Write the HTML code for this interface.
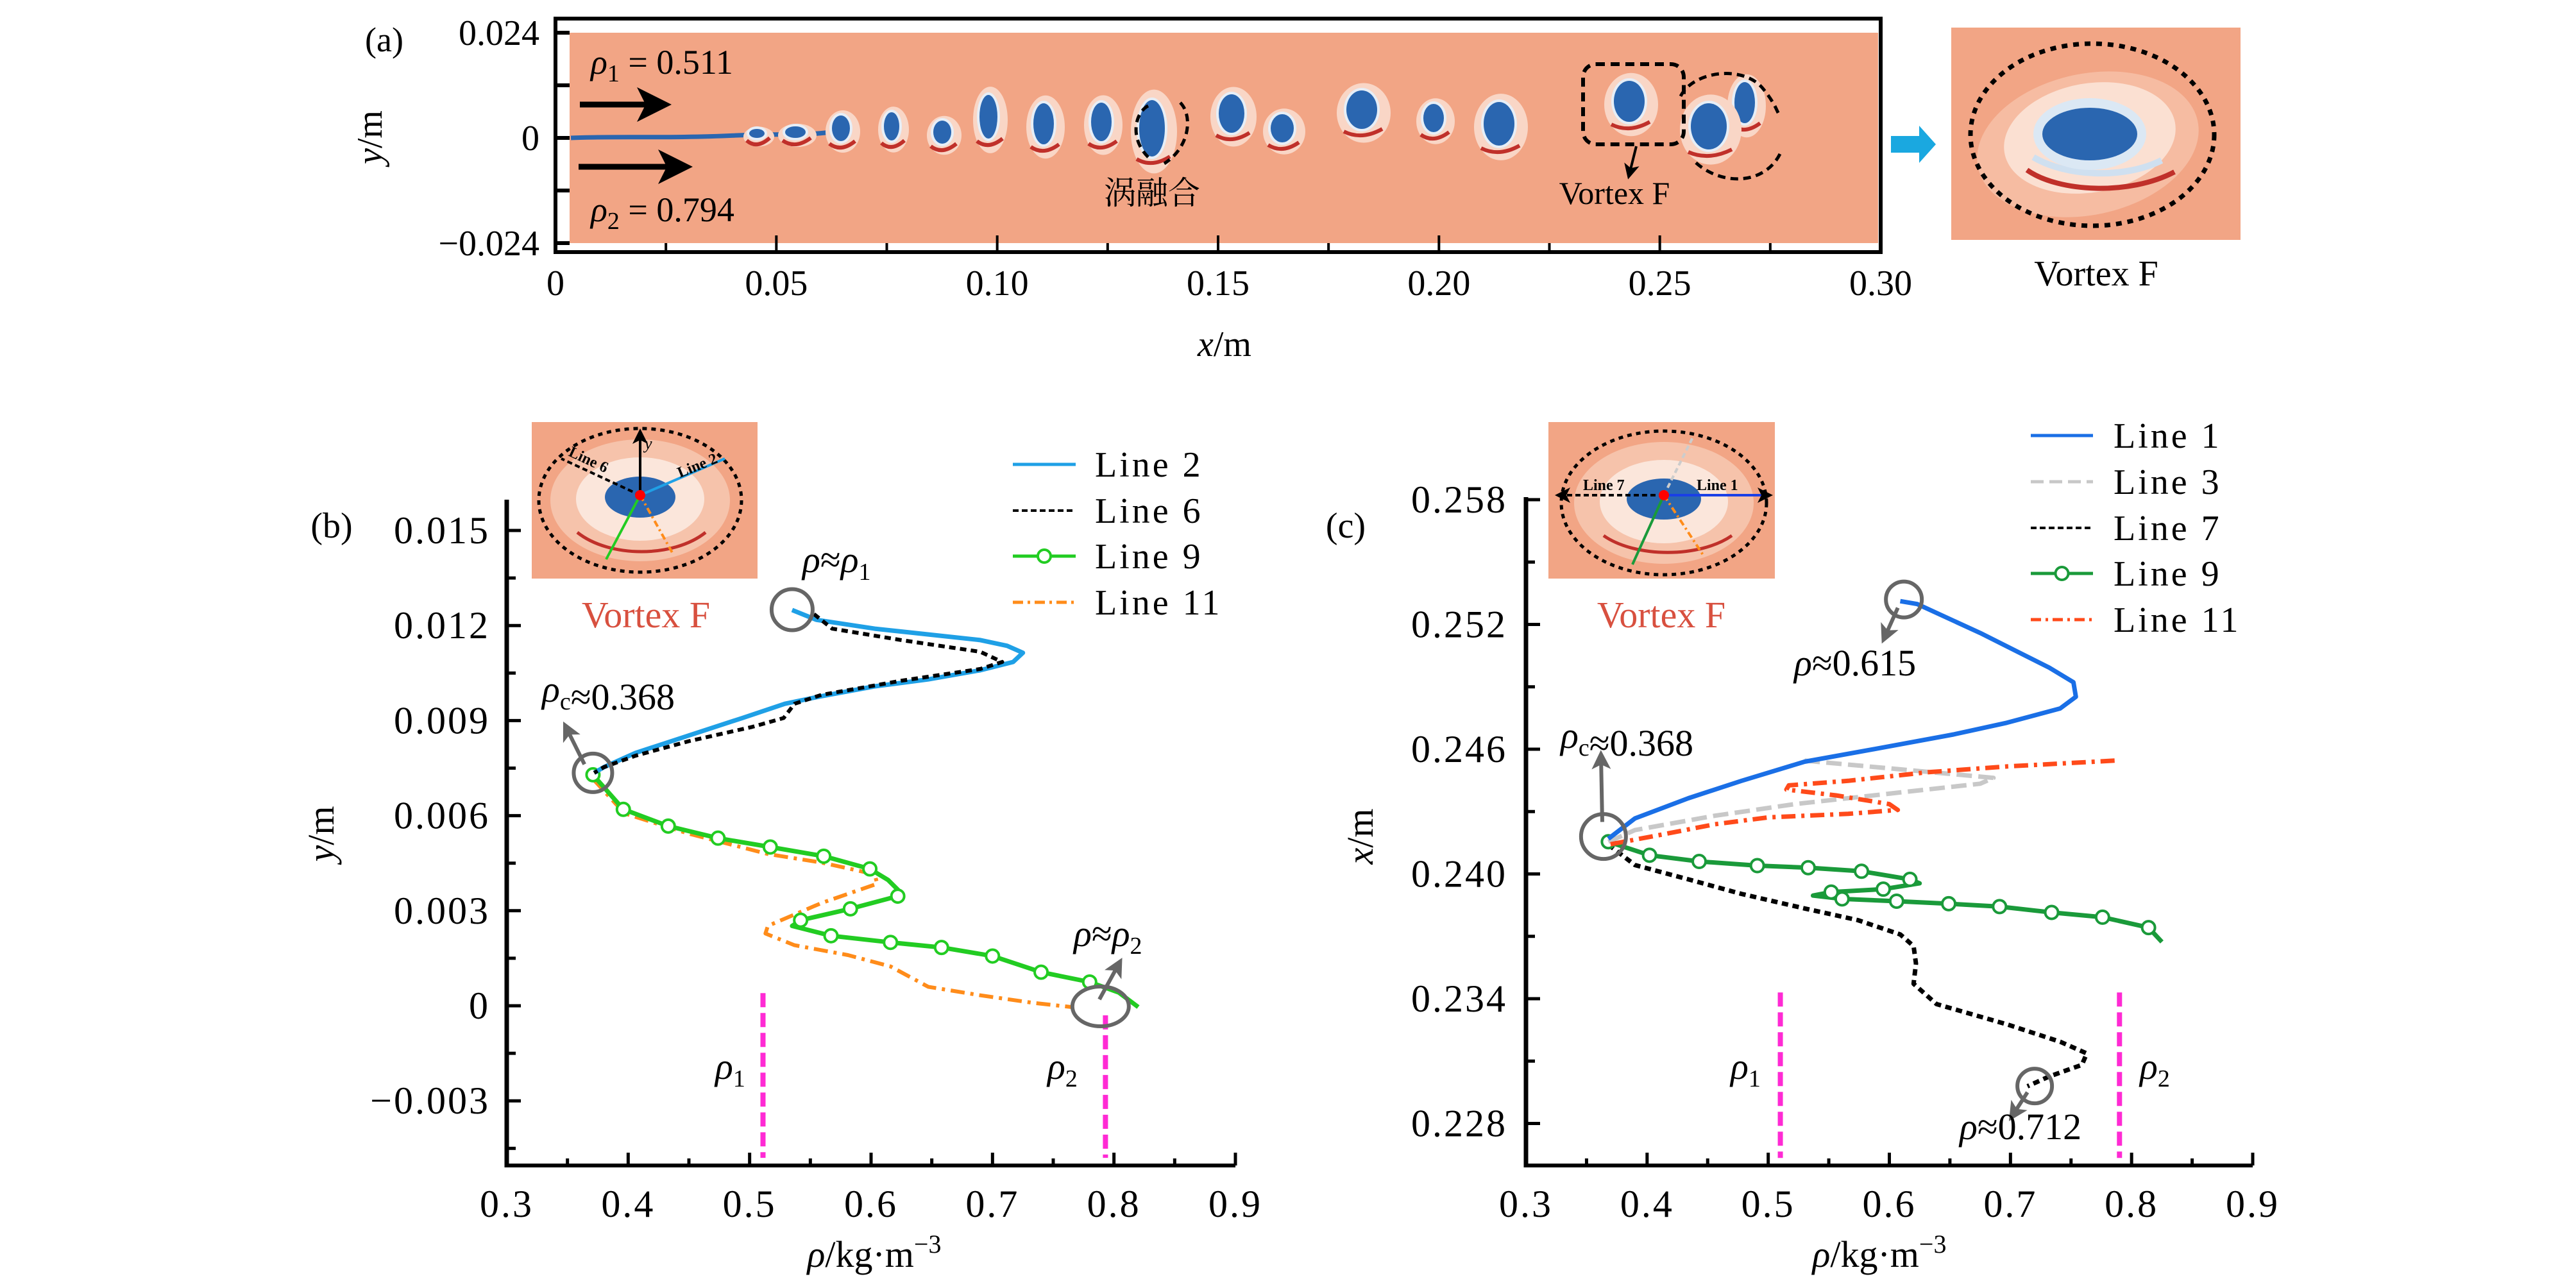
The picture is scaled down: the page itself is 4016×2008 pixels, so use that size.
<!DOCTYPE html>
<html><head><meta charset="utf-8"><style>
html,body{margin:0;padding:0;background:#fff;}
svg{display:block;font-family:"Liberation Serif","Noto Serif CJK SC",serif;}
.it{font-style:italic;}
</style></head><body>
<svg id="fig" width="4016" height="2008" viewBox="0 0 4016 2008" xmlns="http://www.w3.org/2000/svg">
<defs>
<marker id="ah" markerWidth="6" markerHeight="6" refX="3" refY="3" orient="auto" markerUnits="strokeWidth"><path d="M0,0 L6,3 L0,6 L1.5,3 Z" fill="#000"/></marker>
<marker id="ahg" markerWidth="5" markerHeight="5" refX="2.5" refY="2.5" orient="auto" markerUnits="strokeWidth"><path d="M0,0 L5,2.5 L0,5 L1.2,2.5 Z" fill="#666"/></marker>
</defs>

<!-- Panel (a) -->
<g>
<text x="599" y="80" font-size="54" text-anchor="middle">(a)</text>
<rect x="888" y="51" width="2040" height="328" fill="#f2a585"/>
<g id="blobs"></g>
<rect x="866" y="29" width="2066" height="364" fill="none" stroke="#000" stroke-width="6"/>
<g id="aTicks"></g>
<line x1="904" y1="163" x2="1020" y2="163" stroke="#000" stroke-width="9" marker-end="url(#ah)"/>
<line x1="902" y1="260" x2="1053" y2="260" stroke="#000" stroke-width="9" marker-end="url(#ah)"/>
<text x="921" y="115" font-size="54"><tspan class="it">ρ</tspan><tspan font-size="38" dy="12">1</tspan><tspan dy="-12"> = 0.511</tspan></text>
<text x="921" y="345" font-size="54"><tspan class="it">ρ</tspan><tspan font-size="38" dy="12">2</tspan><tspan dy="-12"> = 0.794</tspan></text>
<text x="1796" y="318" font-size="50" text-anchor="middle" font-family="Noto Serif CJK SC,serif">涡融合</text>
<text x="2517" y="318" font-size="50" text-anchor="middle">Vortex F</text>
<rect x="2468" y="100" width="157" height="125" rx="20" fill="none" stroke="#000" stroke-width="6" stroke-dasharray="14 9"/>
<line x1="2551" y1="228" x2="2541" y2="268" stroke="#000" stroke-width="4" marker-end="url(#ah)"/>
<path d="M1790,165 C1770,175 1760,215 1790,245 M1840,160 C1860,180 1855,230 1815,255" fill="none" stroke="#000" stroke-width="5" stroke-dasharray="12 8"/>
<path d="M2620,150 C2640,110 2720,100 2750,140 C2770,165 2770,175 2775,180 M2775,240 C2750,290 2680,290 2640,250" fill="none" stroke="#000" stroke-width="5" stroke-dasharray="12 8"/>
<text x="841" y="70" font-size="56" text-anchor="end">0.024</text>
<text x="841" y="234" font-size="56" text-anchor="end">0</text>
<text x="841" y="398" font-size="56" text-anchor="end">−0.024</text>
<g id="aXLabels"></g>
<text x="1909" y="555" font-size="56" text-anchor="middle"><tspan class="it">x</tspan>/m</text>
<text transform="translate(595,214) rotate(-90)" font-size="56" text-anchor="middle"><tspan class="it">y</tspan>/m</text>
<path d="M2948,212 L2992,212 L2992,196 L3018,225 L2992,254 L2992,238 L2948,238 Z" fill="#1aa8e0"/>
<g>
<rect x="3042" y="43" width="451" height="331" fill="#f2a585"/>
<ellipse cx="3255" cy="225" rx="175" ry="110" fill="#f6bca2" transform="rotate(-12 3255 225)"/>
<ellipse cx="3258" cy="215" rx="135" ry="85" fill="#fbe0d2" transform="rotate(-10 3258 215)"/>
<path d="M3160,265 C3210,300 3320,305 3390,268" fill="none" stroke="#c0302a" stroke-width="8"/>
<path d="M3170,245 C3220,275 3310,280 3370,250" fill="none" stroke="#cfe0f0" stroke-width="10"/>
<ellipse cx="3258" cy="209" rx="88" ry="56" fill="#dbe8f4"/>
<ellipse cx="3258" cy="209" rx="74" ry="41" fill="#2a66b0"/>
<ellipse cx="3262" cy="210" rx="190" ry="142" fill="none" stroke="#000" stroke-width="7" stroke-dasharray="9 9"/>
</g>
<text x="3268" y="445" font-size="56" text-anchor="middle">Vortex F</text>
</g>

<!-- Panel (b) -->
<g>
<text x="517" y="838" font-size="56" text-anchor="middle">(b)</text>
<text transform="translate(520,1300) rotate(-90)" font-size="58" text-anchor="middle"><tspan class="it">y</tspan>/m</text>
<text x="1363" y="1975" font-size="58" text-anchor="middle"><tspan class="it">ρ</tspan>/kg·m<tspan font-size="40" dy="-22">−3</tspan></text>
<g id="bAxes"></g>
<g>
<rect x="829" y="658" width="352" height="244" fill="#f2a585"/>
<ellipse cx="998" cy="780" rx="140" ry="95" fill="#f6c3ab"/>
<ellipse cx="998" cy="778" rx="100" ry="65" fill="#fbe6db"/>
<path d="M900,830 C950,870 1050,870 1100,830" fill="none" stroke="#c0302a" stroke-width="5"/>
<ellipse cx="998" cy="775" rx="55" ry="32" fill="#2a66b0"/>
<ellipse cx="998" cy="780" rx="158" ry="112" fill="none" stroke="#000" stroke-width="5" stroke-dasharray="7 7"/>
<line x1="998" y1="772" x2="998" y2="680" stroke="#000" stroke-width="4" marker-end="url(#ah)"/>
<line x1="998" y1="772" x2="1130" y2="715" stroke="#1fa0e6" stroke-width="4"/>
<line x1="998" y1="772" x2="875" y2="715" stroke="#000" stroke-width="4" stroke-dasharray="8 5"/>
<line x1="998" y1="772" x2="945" y2="872" stroke="#22cc22" stroke-width="4"/>
<line x1="998" y1="772" x2="1050" y2="865" stroke="#ff8c1a" stroke-width="4" stroke-dasharray="10 5 3 5"/>
<circle cx="998" cy="772" r="8" fill="#f00"/>
<text x="1005" y="700" font-size="26" class="it">y</text>
<text x="1060" y="745" font-size="24" font-weight="bold" transform="rotate(-22 1060 745)">Line 2</text>
<text x="885" y="710" font-size="24" font-weight="bold" transform="rotate(25 885 710)">Line 6</text>
</g>
<text x="1007" y="978" font-size="58" fill="#d8503f" text-anchor="middle">Vortex F</text>
<g id="bSeries"></g>
<g id="bLegend"></g>
<g id="bAnno"></g>
</g>

<!-- Panel (c) -->
<g>
<text x="2098" y="838" font-size="56" text-anchor="middle">(c)</text>
<text transform="translate(2140,1304) rotate(-90)" font-size="58" text-anchor="middle"><tspan class="it">x</tspan>/m</text>
<text x="2930" y="1975" font-size="58" text-anchor="middle"><tspan class="it">ρ</tspan>/kg·m<tspan font-size="40" dy="-22">−3</tspan></text>
<g id="cAxes"></g>
<g>
<rect x="2414" y="658" width="353" height="244" fill="#f2a585"/>
<ellipse cx="2594" cy="784" rx="140" ry="95" fill="#f6c3ab"/>
<ellipse cx="2594" cy="782" rx="100" ry="65" fill="#fbe6db"/>
<path d="M2500,835 C2550,870 2650,870 2700,835" fill="none" stroke="#c0302a" stroke-width="5"/>
<ellipse cx="2594" cy="778" rx="58" ry="32" fill="#2a66b0"/>
<ellipse cx="2594" cy="784" rx="160" ry="112" fill="none" stroke="#000" stroke-width="5" stroke-dasharray="7 7"/>
<line x1="2594" y1="772" x2="2752" y2="772" stroke="#1a3fe6" stroke-width="4" marker-end="url(#ah)"/>
<line x1="2594" y1="772" x2="2436" y2="772" stroke="#000" stroke-width="4" stroke-dasharray="8 5" marker-end="url(#ah)"/>
<line x1="2594" y1="772" x2="2640" y2="680" stroke="#ccc" stroke-width="4" stroke-dasharray="8 5"/>
<line x1="2594" y1="772" x2="2545" y2="880" stroke="#1a9a3a" stroke-width="4"/>
<line x1="2594" y1="772" x2="2655" y2="865" stroke="#ff8c1a" stroke-width="4" stroke-dasharray="10 5 3 5"/>
<circle cx="2594" cy="772" r="8" fill="#f00"/>
<text x="2468" y="764" font-size="24" font-weight="bold">Line 7</text>
<text x="2645" y="764" font-size="24" font-weight="bold">Line 1</text>
</g>
<text x="2590" y="978" font-size="58" fill="#d8503f" text-anchor="middle">Vortex F</text>
<g id="cSeries"></g>
<g id="cLegend"></g>
<g id="cAnno"></g>
</g>
</svg>
<script>
// ---------- Panel (b) data: density rho vs y ----------
const bL2Rho=[0.535,0.555,0.603,0.690,0.712,0.725,0.717,0.690,0.647,0.603,0.559,0.529,0.494,0.450,0.406,0.380,0.372];
const bL2Y=[0.01249,0.01218,0.0119,0.01154,0.01136,0.01114,0.01085,0.01059,0.0103,0.01008,0.00977,0.00953,0.00908,0.00853,0.00798,0.00753,0.00735];
const bL6Rho=[0.553,0.568,0.625,0.690,0.708,0.690,0.625,0.559,0.537,0.528,0.502,0.450,0.406,0.380,0.372];
const bL6Y=[0.01236,0.0119,0.01154,0.01117,0.01085,0.01063,0.01026,0.00981,0.00953,0.00908,0.0088,0.00835,0.00789,0.00753,0.00735];
const bL9Rho=[0.371,0.396,0.433,0.474,0.517,0.561,0.599,0.614,0.625,0.622,0.583,0.542,0.535,0.567,0.616,0.658,0.700,0.740,0.780,0.804,0.820];
const bL9Y=[0.00729,0.0062,0.00567,0.00529,0.00501,0.00472,0.00432,0.00397,0.00355,0.00346,0.00306,0.0027,0.00252,0.00221,0.002,0.00184,0.00157,0.00106,0.00075,0.00042,-0.00004];
const bL9MarkRho=[0.371,0.396,0.433,0.474,0.517,0.561,0.599,0.622,0.583,0.542,0.567,0.616,0.658,0.700,0.740,0.780];
const bL9MarkY=[0.00729,0.0062,0.00567,0.00529,0.00501,0.00472,0.00432,0.00346,0.00306,0.0027,0.00221,0.002,0.00184,0.00157,0.00106,0.00075];
const bL11Rho=[0.371,0.397,0.450,0.515,0.559,0.603,0.605,0.559,0.515,0.513,0.537,0.581,0.616,0.647,0.690,0.734,0.765];
const bL11Y=[0.00716,0.00607,0.00543,0.00479,0.00452,0.00415,0.00385,0.00324,0.00252,0.00228,0.00191,0.0016,0.00124,0.0006,0.00033,0.00009,-0.00004];
const bXTicks=[0.3,0.4,0.5,0.6,0.7,0.8,0.9];
const bXTickLabels=["0.3","0.4","0.5","0.6","0.7","0.8","0.9"];
const bYTicks=[-0.003,0,0.003,0.006,0.009,0.012,0.015];
const bYTickLabels=["−0.003","0","0.003","0.006","0.009","0.012","0.015"];
const bRhoRefs=[0.511,0.793];

// ---------- Panel (c) data: density rho vs x ----------
const cL1Rho=[0.609,0.623,0.675,0.732,0.752,0.754,0.741,0.697,0.653,0.588,0.530,0.478,0.434,0.390,0.368];
const cL1X=[0.25312,0.25298,0.25159,0.24992,0.24922,0.24852,0.24796,0.24727,0.24671,0.24601,0.2454,0.24448,0.24364,0.24267,0.24169];
const cL3Rho=[0.530,0.609,0.686,0.675,0.609,0.522,0.456,0.390,0.368];
const cL3X=[0.24545,0.24503,0.24462,0.24434,0.24392,0.24336,0.2428,0.24211,0.24155];
const cL7Rho=[0.368,0.390,0.434,0.478,0.530,0.574,0.609,0.620,0.622,0.620,0.639,0.697,0.741,0.763,0.759,0.732,0.714];
const cL7X=[0.24141,0.24043,0.23974,0.23904,0.23834,0.23778,0.23709,0.23653,0.23569,0.23472,0.23374,0.23277,0.23193,0.23137,0.23082,0.23026,0.22979];
const cL9Rho=[0.368,0.402,0.443,0.491,0.533,0.577,0.617,0.625,0.595,0.552,0.537,0.561,0.606,0.649,0.691,0.734,0.776,0.814,0.825];
const cL9X=[0.24155,0.2409,0.2406,0.2404,0.2403,0.24013,0.23974,0.23955,0.23927,0.23913,0.23896,0.2388,0.23869,0.23857,0.23843,0.23815,0.23792,0.23742,0.23673];
const cL9MarkRho=[0.368,0.402,0.443,0.491,0.533,0.577,0.617,0.595,0.552,0.561,0.606,0.649,0.691,0.734,0.776,0.814];
const cL9MarkX=[0.24155,0.2409,0.2406,0.2404,0.2403,0.24013,0.23974,0.23927,0.23913,0.2388,0.23869,0.23857,0.23843,0.23815,0.23792,0.23742];
const cL11Rho=[0.786,0.697,0.631,0.566,0.517,0.515,0.556,0.600,0.607,0.566,0.500,0.456,0.412,0.368];
const cL11X=[0.24545,0.24517,0.24489,0.24448,0.24426,0.24406,0.24378,0.24336,0.24308,0.24289,0.24272,0.24239,0.24189,0.24141];
const cXTicks=[0.3,0.4,0.5,0.6,0.7,0.8,0.9];
const cXTickLabels=["0.3","0.4","0.5","0.6","0.7","0.8","0.9"];
const cYTicks=[0.228,0.234,0.240,0.246,0.252,0.258];
const cYTickLabels=["0.228","0.234","0.240","0.246","0.252","0.258"];
const cRhoRefs=[0.510,0.790];

// ---------- Panel (a) ticks ----------
const aXTicks=[0,0.05,0.10,0.15,0.20,0.25,0.30];
const aXTickLabels=["0","0.05","0.10","0.15","0.20","0.25","0.30"];

const NS="http://www.w3.org/2000/svg";
function mk(tag,attrs,parent){const e=document.createElementNS(NS,tag);for(const k in attrs)e.setAttribute(k,attrs[k]);parent.appendChild(e);return e;}

const bx=r=>790+(r-0.3)/0.6*1136;
const by=v=>1568-v/0.003*148.2;
const cx=r=>2379+(r-0.3)/0.6*1133;
const cy=v=>779+(0.258-v)/0.006*194.5;
const ax=v=>866+v/0.30*2066;

function ptsStr(xs,ys,fx,fy){return xs.map((x,i)=>fx(x).toFixed(1)+","+fy(ys[i]).toFixed(1)).join(" ");}

(function(){
 const g=document.getElementById('aTicks');
 for(let i=0;i<=12;i++){const v=i*0.025;const X=ax(v);const len=(i%2===0)?26:14;
  const t=mk('line',{x1:X,y1:393,x2:X,y2:393-len,stroke:'#000','stroke-width':4},g);
  
  }
 [51,133,215,297,379].forEach(Y=>{const t=mk('line',{x1:866,y1:Y,x2:888,y2:Y,stroke:'#000','stroke-width':6},g);
  
  });
 const gl=document.getElementById('aXLabels');
 aXTicks.forEach((v,i)=>{const t=mk('text',{x:ax(v),y:460,'font-size':56,'text-anchor':'middle'},gl);t.textContent=aXTickLabels[i];
  
  });
 const gb=document.getElementById('blobs');
 mk('path',{d:'M890,215 C950,212 1050,216 1150,211 C1220,208 1260,212 1300,205',stroke:'#2a66b0','stroke-width':7,fill:'none'},gb);
 const blobs=[[1180,208,12,7],[1240,206,16,9],[1311,200,14,20],[1390,197,12,22],[1469,206,14,18],[1541,182,14,34],[1627,193,16,32],[1717,190,16,30],[1796,200,20,44],[1920,177,20,30],[1999,200,18,22],[2123,171,24,30],[2235,184,16,22],[2337,193,24,34],[2540,158,24,32],[2720,160,16,32],[2664,197,28,36]];
 blobs.forEach(b=>{
  mk('ellipse',{cx:b[0]+3,cy:b[1]+5,rx:b[2]*1.5+6,ry:b[3]*1.35+6,fill:'#f9d6c6'},gb);
  mk('path',{d:'M'+(b[0]-b[2]-4)+','+(b[1]+b[3]+4)+' Q'+b[0]+','+(b[1]+b[3]+18)+' '+(b[0]+b[2]+8)+','+(b[1]+b[3]),stroke:'#c0302a','stroke-width':6,fill:'none'},gb);
  mk('ellipse',{cx:b[0],cy:b[1],rx:b[2]+4,ry:b[3]+4,fill:'#e6eef7'},gb);
  mk('ellipse',{cx:b[0],cy:b[1],rx:b[2],ry:b[3],fill:'#2a66b0'},gb);
 });
})();

function buildAxes(gid,x0,x1,yTop,yBot,xT,xTL,fx,yT,yTL,fy,minorY,minorX,labelRight,pfx){
 const g=document.getElementById(gid);
 const ya=mk('line',{x1:x0,y1:yTop,x2:x0,y2:yBot+3,stroke:'#000','stroke-width':7},g);
 
 
 const xa=mk('line',{x1:x0-3,y1:yBot,x2:x1,y2:yBot,stroke:'#000','stroke-width':6},g);
 
 
 xT.forEach((v,i)=>{const X=fx(v);
  const t=mk('line',{x1:X,y1:yBot,x2:X,y2:yBot-20,stroke:'#000','stroke-width':5},g);
  
  
  const l=mk('text',{x:X,y:yBot+80,'font-size':60,'text-anchor':'middle','letter-spacing':3},g);l.textContent=xTL[i];
  
  });
 minorX.forEach(v=>{const X=fx(v);const t=mk('line',{x1:X,y1:yBot,x2:X,y2:yBot-11,stroke:'#000','stroke-width':5},g);
  
  });
 yT.forEach((v,i)=>{const Y=fy(v);
  const t=mk('line',{x1:x0,y1:Y,x2:x0+22,y2:Y,stroke:'#000','stroke-width':5},g);
  
  
  const l=mk('text',{x:labelRight,y:Y+20,'font-size':60,'text-anchor':'end','letter-spacing':3},g);l.textContent=yTL[i];
  
  });
 minorY.forEach(v=>{const Y=fy(v);const t=mk('line',{x1:x0,y1:Y,x2:x0+14,y2:Y,stroke:'#000','stroke-width':5},g);
  
  });
}
buildAxes('bAxes',790,1926,779,1817,bXTicks,bXTickLabels,bx,bYTicks,bYTickLabels,by,
 [-0.0045,-0.0015,0.0015,0.0045,0.0075,0.0105,0.0135],[0.35,0.45,0.55,0.65,0.75,0.85],764,'b');
buildAxes('cAxes',2379,3512,775,1817,cXTicks,cXTickLabels,cx,cYTicks,cYTickLabels,cy,
 [0.231,0.237,0.243,0.249,0.255],[0.35,0.45,0.55,0.65,0.75,0.85],2350,'c');

function line(g,xs,ys,fx,fy,style,name){
 const p=mk('polyline',Object.assign({points:ptsStr(xs,ys,fx,fy),fill:'none','stroke-linejoin':'round','stroke-linecap':'butt'},style),g);
 
 
 return p;
}
function markers(g,xs,ys,fx,fy,color,name){
 xs.forEach((x,i)=>{const c=mk('circle',{cx:fx(x),cy:fy(ys[i]),r:10,fill:'#fff',stroke:color,'stroke-width':4},g);
  
  });
}
function refLines(g,refs,fx,fy,yTopVal,yBotVal,pfx){
 refs.forEach((r,i)=>{const l=mk('line',{x1:fx(r),y1:fy(yTopVal[i]),x2:fx(r),y2:fy(yBotVal),stroke:'#ff2ad4','stroke-width':8,'stroke-dasharray':'22 9'},g);
  
  });
}
(function(){
 const g=document.getElementById('bSeries');
 refLines(g,bRhoRefs,bx,by,[0.0004,-0.0003],-0.0048,'b');
 line(g,bL11Rho,bL11Y,bx,by,{stroke:'#ff8c1a','stroke-width':6,'stroke-dasharray':'22 9 5 9'},'b-line-11');
 line(g,bL9Rho,bL9Y,bx,by,{stroke:'#22cc22','stroke-width':7},'b-line-9');
 markers(g,bL9MarkRho,bL9MarkY,bx,by,'#22cc22','b-line-9-marker');
 line(g,bL2Rho,bL2Y,bx,by,{stroke:'#1fa0e6','stroke-width':7},'b-line-2');
 line(g,bL6Rho,bL6Y,bx,by,{stroke:'#000','stroke-width':6,'stroke-dasharray':'10 7'},'b-line-6');
})();
(function(){
 const g=document.getElementById('cSeries');
 refLines(g,cRhoRefs,cx,cy,[0.2343,0.2343],0.22634,'c');
 line(g,cL7Rho,cL7X,cx,cy,{stroke:'#000','stroke-width':7,'stroke-dasharray':'10 7'},'c-line-7');
 line(g,cL9Rho,cL9X,cx,cy,{stroke:'#1a9a3a','stroke-width':7},'c-line-9');
 markers(g,cL9MarkRho,cL9MarkX,cx,cy,'#1a9a3a','c-line-9-marker');
 line(g,cL3Rho,cL3X,cx,cy,{stroke:'#c8c8c8','stroke-width':7,'stroke-dasharray':'24 10'},'c-line-3');
 line(g,cL11Rho,cL11X,cx,cy,{stroke:'#ff4a1a','stroke-width':7,'stroke-dasharray':'22 9 5 9'},'c-line-11');
 line(g,cL1Rho,cL1X,cx,cy,{stroke:'#1a6fe6','stroke-width':7},'c-line-1');
})();

function legend(gid,x0,x1,tx,ys,names,styles,markIdx,pfx){
 const g=document.getElementById(gid);
 names.forEach((n,i)=>{
  const l=mk('line',Object.assign({x1:x0,y1:ys[i],x2:x1,y2:ys[i]},styles[i]),g);
  
  
  if(i===markIdx){const c=mk('circle',{cx:(x0+x1)/2,cy:ys[i],r:10,fill:'#fff',stroke:styles[i].stroke,'stroke-width':4},g);
   
   }
  const t=mk('text',{x:tx,y:ys[i]+19,'font-size':56,'letter-spacing':4},g);t.textContent=n;
  
  
 });
}
legend('bLegend',1579,1677,1707,[724,796,867,939],["Line 2","Line 6","Line 9","Line 11"],
 [{stroke:'#1fa0e6','stroke-width':5},{stroke:'#000','stroke-width':4,'stroke-dasharray':'9 5'},{stroke:'#22cc22','stroke-width':5},{stroke:'#ff8c1a','stroke-width':5,'stroke-dasharray':'16 7 4 7'}],2,'b');
legend('cLegend',3166,3263,3295,[679,751,823,894,966],["Line 1","Line 3","Line 7","Line 9","Line 11"],
 [{stroke:'#1a6fe6','stroke-width':5},{stroke:'#c8c8c8','stroke-width':5,'stroke-dasharray':'20 9'},{stroke:'#000','stroke-width':4,'stroke-dasharray':'9 5'},{stroke:'#1a9a3a','stroke-width':5},{stroke:'#ff4a1a','stroke-width':5,'stroke-dasharray':'16 7 4 7'}],3,'c');

function circ(g,X,Y,rx,ry,name){const e=mk('ellipse',{cx:X,cy:Y,rx:rx,ry:ry,fill:'none',stroke:'#666','stroke-width':6},g);
 
 }
function arr(g,x1,y1,x2,y2,name){const a=mk('line',{x1:x1,y1:y1,x2:x2,y2:y2,stroke:'#666','stroke-width':6,'marker-end':'url(#ahg)'},g);
 
 }
function txt(g,X,Y,html,name,anchor){const t=mk('text',{x:X,y:Y,'font-size':58,'text-anchor':anchor||'start'},g);t.innerHTML=html;
 
 }
const RHO='<tspan font-style="italic">ρ</tspan>';
const sub=s=>'<tspan font-size="38" dy="12">'+s+'</tspan><tspan dy="-12"></tspan>';
(function(){
 const g=document.getElementById('bAnno');
 circ(g,bx(0.535),by(0.0125),32,32,'b-circle-rho1');
 circ(g,bx(0.371),by(0.00735),30,30,'b-circle-rhoc');
 circ(g,bx(0.789),by(-0.00002),44,31,'b-circle-rho2');
 arr(g,bx(0.364),by(0.00762),bx(0.350),by(0.0087),'b-arrow-rhoc');
 arr(g,bx(0.788),by(0.0002),bx(0.803),by(0.00125),'b-arrow-rho2');
 txt(g,1251,892,RHO+'≈'+RHO+sub('1'),'b-annotation-rho1');
 txt(g,845,1094,RHO+sub('c')+'≈0.368','b-annotation-rhoc');
 txt(g,1674,1475,RHO+'≈'+RHO+sub('2'),'b-annotation-rho2');
 txt(g,1115,1682,RHO+sub('1'),'b-rho1-label');
 txt(g,1633,1682,RHO+sub('2'),'b-rho2-label');
})();
(function(){
 const g=document.getElementById('cAnno');
 circ(g,cx(0.612),cy(0.2532),28,28,'c-circle-0.615');
 circ(g,cx(0.364),cy(0.2418),35,35,'c-circle-rhoc');
 circ(g,cx(0.72),cy(0.2298),27,27,'c-circle-0.712');
 arr(g,cx(0.607),cy(0.2528),cx(0.597),cy(0.2515),'c-arrow-0.615');
 arr(g,cx(0.363),cy(0.2425),cx(0.362),cy(0.2455),'c-arrow-rhoc');
 arr(g,cx(0.714),cy(0.2295),cx(0.703),cy(0.2285),'c-arrow-0.712');
 txt(g,2797,1053,RHO+'≈0.615','c-annotation-0.615');
 txt(g,2433,1166,RHO+sub('c')+'≈0.368','c-annotation-rhoc');
 txt(g,3055,1776,RHO+'≈0.712','c-annotation-0.712');
 txt(g,2698,1682,RHO+sub('1'),'c-rho1-label');
 txt(g,3336,1682,RHO+sub('2'),'c-rho2-label');
})();
</script>
</body></html>
